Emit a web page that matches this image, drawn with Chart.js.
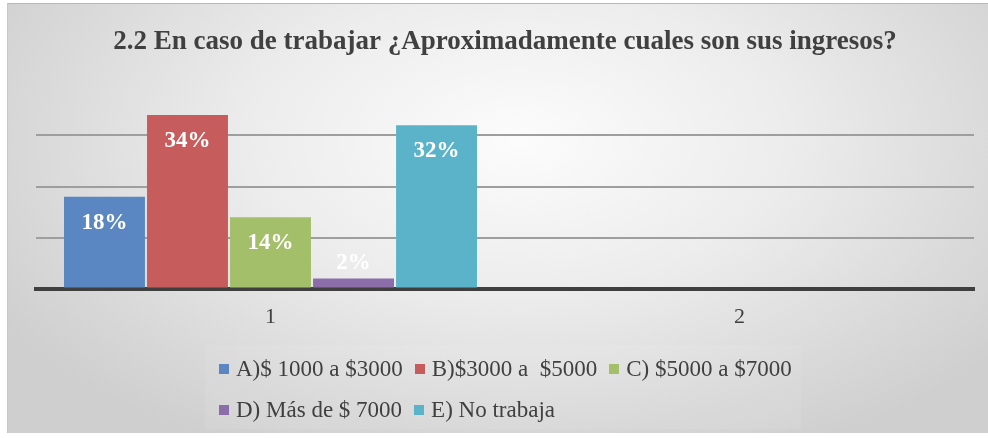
<!DOCTYPE html>
<html lang="es">
<head>
<meta charset="utf-8">
<script src="https://cdn.jsdelivr.net/npm/chart.js@4.4.1/dist/chart.umd.min.js"></script>
<style>
  html, body { margin: 0; padding: 0; background: #fff; }
  #frame {
    position: absolute; left: 7px; top: 3px; width: 980px; height: 429px;
    border-top: 1px solid #b8b8b8; border-left: 1px solid #c8c8c8;
    background: radial-gradient(ellipse 62% 80% at 52% 32%, #fcfcfc 0%, #ececec 45%, #d9d9d9 80%, #cfcfcf 100%);
    overflow: hidden;
  }
  #chart { position: absolute; left: 0; top: 0; }
  #legend {
    position: absolute; left: 197px; top: 341px; width: 596px; height: 84px;
    background: rgba(255,255,255,0.07);
    font-family: "Liberation Serif", serif; font-size: 23px; color: #404040;
  }
  .row { position: absolute; left: 14px; display: flex; white-space: pre; line-height: 26px; }
  .item { display: flex; align-items: center; margin-right: 12px; }
  .sw { width: 10px; height: 10px; margin-right: 7px; }
</style>
</head>
<body>
<div id="frame">
  <canvas id="chart" width="980" height="429"></canvas>
  <div id="legend"></div>
</div>
<script>
const TITLE = "2.2 En caso de trabajar ¿Aproximadamente cuales son sus ingresos?";
const CATEGORIES = ["1", "2"];
const SERIES_NAMES = ["A)$ 1000 a $3000", "B)$3000 a  $5000", "C) $5000 a $7000", "D) Más de $ 7000", "E) No trabaja"];
const SERIES_A = [18, null];
const SERIES_B = [34, null];
const SERIES_C = [14, null];
const SERIES_D = [2, null];
const SERIES_E = [32, null];
const Y_TICKS = [0, 10, 20, 30, 40];

const COLORS = ["#5A87C2", "#C65D5C", "#A4BF69", "#8A6DA9", "#5BB3C9"];
const SERIES = [SERIES_A, SERIES_B, SERIES_C, SERIES_D, SERIES_E];

// etiquetas de datos dentro del extremo de la barra
const barLabels = {
  id: "barLabels",
  afterDatasetsDraw(chart) {
    const ctx = chart.ctx;
    ctx.save();
    ctx.font = "bold 23px 'Liberation Serif', serif";
    ctx.fillStyle = "#ffffff";
    ctx.textAlign = "center";
    ctx.textBaseline = "middle";
    chart.data.datasets.forEach((ds, i) => {
      const meta = chart.getDatasetMeta(i);
      meta.data.forEach((bar, j) => {
        const v = ds.data[j];
        if (v === null || v === undefined) return;
        const h = bar.base - bar.y;
        const ty = h > 40 ? bar.y + 26 : bar.y - 15;
        ctx.fillText(v + "%", bar.x, ty);
      });
    });
    ctx.restore();
  }
};

new Chart(document.getElementById("chart"), {
  type: "bar",
  data: {
    labels: CATEGORIES,
    datasets: SERIES.map((data, i) => ({
      label: SERIES_NAMES[i],
      data,
      backgroundColor: COLORS[i],
      borderWidth: 0,
      categoryPercentage: 0.885,
      barPercentage: 0.975,
    })),
  },
  options: {
    responsive: false,
    animation: false,
    layout: { padding: { left: 28, right: 14, top: 0, bottom: 88 } },
    plugins: {
      legend: { display: false },
      tooltip: { enabled: false },
      title: {
        display: true,
        text: TITLE,
        color: "#404040",
        font: { family: "'Liberation Serif', serif", size: 27, weight: "bold" },
        padding: { top: 22, bottom: 26 },
      },
    },
    scales: {
      x: {
        grid: { display: false, drawTicks: false },
        border: { display: true, color: "#3f3f3f", width: 4 },
        ticks: { color: "#404040", font: { family: "'Liberation Serif', serif", size: 22 }, padding: 15 },
      },
      y: {
        min: Y_TICKS[0],
        max: Y_TICKS[Y_TICKS.length - 1],
        afterBuildTicks: (axis) => { axis.ticks = Y_TICKS.map(v => ({ value: v })); },
        ticks: { display: false },
        border: { display: false },
        grid: {
          drawTicks: false,
          lineWidth: 2,
          color: (c) => (c.tick && c.tick.value > 0 && c.tick.value < 40) ? "#9e9e9e" : "rgba(0,0,0,0)",
        },
      },
    },
  },
  plugins: [barLabels],
});

// leyenda en dos filas
const legend = document.getElementById("legend");
const rows = [[0, 1, 2], [3, 4]];
const rowTops = [11, 52];
rows.forEach((idx, r) => {
  const row = document.createElement("div");
  row.className = "row";
  row.style.top = rowTops[r] + "px";
  idx.forEach(i => {
    const it = document.createElement("div");
    it.className = "item";
    const sw = document.createElement("span");
    sw.className = "sw";
    sw.style.background = COLORS[i];
    const tx = document.createElement("span");
    tx.textContent = SERIES_NAMES[i];
    it.appendChild(sw);
    it.appendChild(tx);
    row.appendChild(it);
  });
  legend.appendChild(row);
});
</script>
</body>
</html>
